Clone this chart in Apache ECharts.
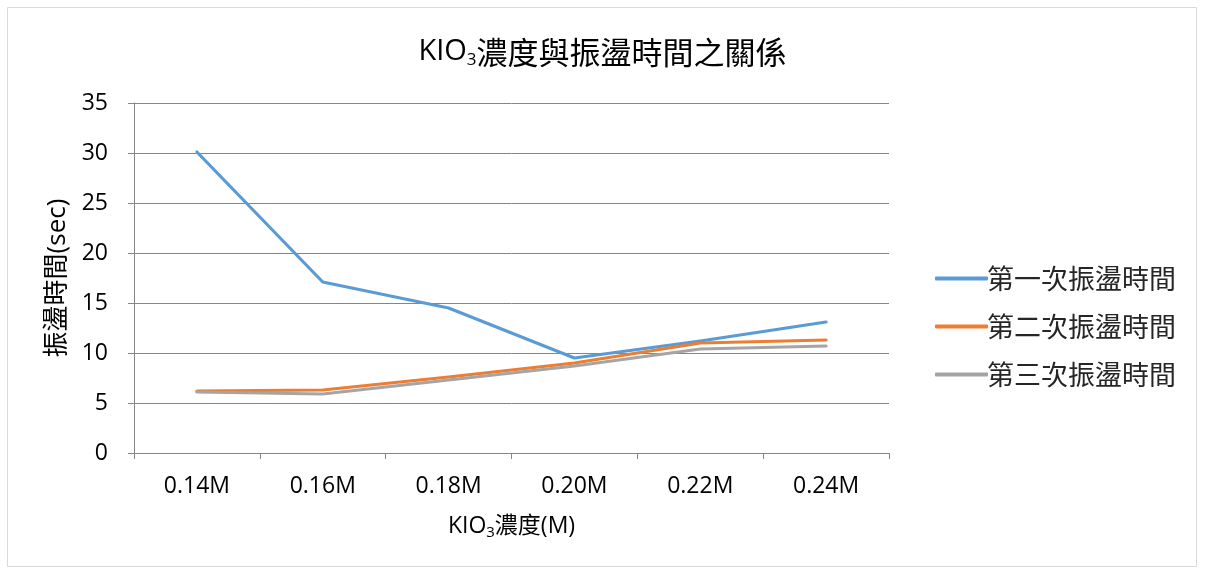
<!DOCTYPE html>
<html>
<head>
<meta charset="utf-8">
<script src="https://cdn.jsdelivr.net/npm/echarts@6/dist/echarts.min.js"></script>
<style>
  html, body { margin: 0; padding: 0; background: #fff; }
  #chart { width: 1205px; height: 576px; }
</style>
</head>
<body>
<div id="chart"></div>
<script>
// KIO3 concentration vs. oscillation time, three trials
const categories = ['0.14M', '0.16M', '0.18M', '0.20M', '0.22M', '0.24M'];
const seriesNames = ['第一次振盪時間', '第二次振盪時間', '第三次振盪時間'];
const trial1 = [30.1, 17.1, 14.5, 9.5, 11.2, 13.1];
const trial2 = [6.2, 6.3, 7.6, 9.0, 11.0, 11.3];
const trial3 = [6.1, 5.9, 7.3, 8.7, 10.4, 10.7];
const yTicks = { min: 0, max: 35, interval: 5 };

const colors = ['#5B9BD5', '#ED7D31', '#A5A5A5'];
const fontLatin = '"Open Sans", "Noto Sans CJK TC", sans-serif';
const fontCJK = '"Noto Sans CJK TC", sans-serif';

const chart = echarts.init(document.getElementById('chart'));

const mkSeries = (name, data, i) => ({
  name, type: 'line', data,
  symbol: 'none',
  lineStyle: { width: 3.2, color: colors[i], cap: 'round', join: 'round' },
  itemStyle: { color: colors[i] },
  z: 2 + i
});

chart.setOption({
  animation: false,
  backgroundColor: '#fff',
  graphic: [{
    type: 'rect',
    shape: { x: 7.5, y: 7.5, width: 1189, height: 559 },
    style: { fill: 'none', stroke: '#D9D9D9', lineWidth: 1 },
    silent: true
  }],
  title: {
    text: '{n|KIO}{sub|3}{c|濃度與振盪時間之關係}',
    left: 'center',
    top: 30,
    textStyle: {
      fontFamily: fontCJK, fontSize: 31, fontWeight: 'normal', color: '#000',
      rich: {
        n: { fontFamily: fontLatin, fontSize: 29, fontWeight: 'normal', color: '#000' },
        sub: { fontFamily: fontLatin, fontSize: 17, fontWeight: 'normal', color: '#000', padding: [17, 0, 0, 0] },
        c: { fontFamily: fontCJK, fontSize: 31, fontWeight: 'normal', color: '#000' }
      }
    }
  },
  legend: {
    orient: 'vertical',
    left: 930,
    top: 260,
    itemGap: 21,
    itemWidth: 53,
    itemHeight: 4,
    icon: 'roundRect',
    textStyle: { fontFamily: fontCJK, fontSize: 27, color: '#262626', padding: [0, 0, 0, -6] },
    data: seriesNames.map((n, i) => ({ name: n, itemStyle: { color: colors[i] } }))
  },
  grid: { left: 134, right: 316, top: 103, bottom: 123, containLabel: false },
  xAxis: {
    type: 'category',
    data: categories,
    boundaryGap: true,
    name: '{n|KIO}{sub|3}{c|濃度(M)}',
    nameLocation: 'middle',
    nameGap: 59,
    nameTextStyle: {
      fontFamily: fontLatin, fontSize: 23, fontWeight: 'normal', color: '#000',
      rich: {
        n: { fontFamily: fontLatin, fontSize: 23, color: '#000' },
        sub: { fontFamily: fontLatin, fontSize: 15, color: '#000', padding: [13, 0, 0, 0] },
        c: { fontFamily: fontLatin, fontSize: 23, color: '#000' }
      }
    },
    axisLine: { lineStyle: { color: '#868686', width: 1 } },
    axisTick: { show: true, alignWithLabel: false, length: 6, lineStyle: { color: '#868686' } },
    axisLabel: { fontFamily: fontLatin, fontSize: 23, color: '#000', margin: 22 },
    splitLine: { show: false }
  },
  yAxis: {
    type: 'value',
    min: yTicks.min, max: yTicks.max, interval: yTicks.interval,
    name: '振盪時間(sec)',
    nameLocation: 'middle',
    nameRotate: 90,
    nameGap: 62,
    nameTextStyle: { fontFamily: fontLatin, fontSize: 26, color: '#000' },
    axisLine: { show: true, lineStyle: { color: '#868686', width: 1 } },
    axisTick: { show: true, length: 6, inside: false, lineStyle: { color: '#868686' } },
    axisLabel: { fontFamily: fontLatin, fontSize: 23, color: '#000', margin: 26 },
    splitLine: { show: true, lineStyle: { color: '#868686', width: 1 } }
  },
  series: [
    mkSeries(seriesNames[0], trial1, 0),
    mkSeries(seriesNames[1], trial2, 1),
    mkSeries(seriesNames[2], trial3, 2)
  ]
});
</script>
</body>
</html>
